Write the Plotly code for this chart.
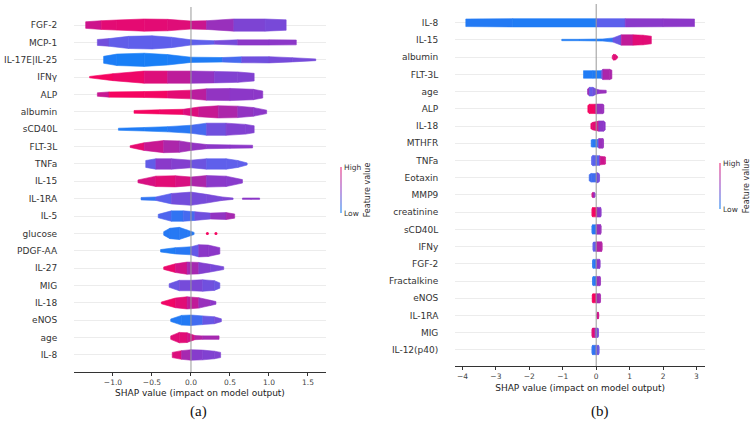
import plotly.graph_objects as go

# ---------------- Panel (a) data ----------------
A_features = ["FGF-2", "MCP-1", "IL-17E|IL-25", "IFNγ", "ALP", "albumin", "sCD40L", "FLT-3L",
              "TNFa", "IL-15", "IL-1RA", "IL-5", "glucose", "PDGF-AA", "IL-27", "MIG", "IL-18",
              "eNOS", "age", "IL-8"]
A_x = [
    [-1.35, -1.15, -0.95, -0.6, -0.3, 0, 0.2, 0.55, 0.95, 1.22],
    [-1.2, -1.05, -0.8, -0.5, -0.25, 0, 0.3, 0.6, 1.0, 1.35],
    [-1.12, -0.95, -0.6, -0.3, 0, 0.4, 0.65, 1.0, 1.3, 1.6],
    [-1.3, -1.0, -0.6, -0.3, 0, 0.3, 0.6, 0.81],
    [-1.2, -1.05, -0.6, -0.3, 0, 0.2, 0.5, 0.8, 0.92],
    [-0.73, -0.4, -0.1, 0.1, 0.35, 0.6, 0.8, 0.97],
    [-0.93, -0.6, -0.3, 0, 0.2, 0.45, 0.7, 0.81],
    [-0.78, -0.6, -0.35, -0.15, 0, 0.2, 0.5, 0.79],
    [-0.58, -0.45, -0.25, 0, 0.2, 0.45, 0.6, 0.72],
    [-0.68, -0.45, -0.2, 0, 0.2, 0.45, 0.66],
    [-0.64, -0.45, -0.25, 0, 0.2, 0.4, 0.54],
    [-0.42, -0.25, -0.1, 0.05, 0.25, 0.45, 0.56],
    [-0.35, -0.27, -0.15, -0.05, 0.04],
    [-0.39, -0.2, 0, 0.1, 0.22, 0.37],
    [-0.35, -0.2, -0.05, 0.1, 0.25, 0.42],
    [-0.28, -0.15, 0, 0.15, 0.3, 0.37],
    [-0.38, -0.2, -0.05, 0.1, 0.25, 0.32],
    [-0.26, -0.12, 0, 0.15, 0.3, 0.39],
    [-0.26, -0.15, -0.05, 0.05, 0.15, 0.36],
    [-0.24, -0.12, 0, 0.15, 0.3, 0.38],
]
A_hw = [
    [0.19, 0.25, 0.29, 0.35, 0.33, 0.23, 0.25, 0.35, 0.35, 0.3],
    [0.17, 0.22, 0.35, 0.38, 0.3, 0.15, 0.1, 0.15, 0.15, 0.14],
    [0.2, 0.33, 0.38, 0.3, 0.15, 0.13, 0.17, 0.18, 0.12, 0.05],
    [0.04, 0.2, 0.35, 0.35, 0.35, 0.33, 0.3, 0.22],
    [0.1, 0.15, 0.17, 0.2, 0.25, 0.33, 0.35, 0.3, 0.2],
    [0.08, 0.12, 0.15, 0.28, 0.35, 0.33, 0.25, 0.1],
    [0.06, 0.1, 0.15, 0.23, 0.35, 0.35, 0.28, 0.2],
    [0.05, 0.22, 0.35, 0.33, 0.22, 0.12, 0.1, 0.08],
    [0.2, 0.3, 0.3, 0.22, 0.3, 0.3, 0.2, 0.06],
    [0.08, 0.3, 0.32, 0.25, 0.33, 0.3, 0.1],
    [0.07, 0.1, 0.3, 0.38, 0.25, 0.1, 0.04],
    [0.1, 0.3, 0.3, 0.25, 0.17, 0.2, 0.12],
    [0.1, 0.3, 0.35, 0.2, 0.06],
    [0.07, 0.18, 0.23, 0.35, 0.33, 0.18],
    [0.07, 0.25, 0.35, 0.33, 0.22, 0.08],
    [0.1, 0.3, 0.3, 0.33, 0.28, 0.15],
    [0.05, 0.28, 0.35, 0.3, 0.15, 0.08],
    [0.07, 0.28, 0.3, 0.25, 0.2, 0.08],
    [0.1, 0.3, 0.28, 0.12, 0.1, 0.1],
    [0.15, 0.25, 0.3, 0.28, 0.22, 0.15],
]
A_c = [
    [0.65, 0.85, 0.87, 0.87, 0.85, 0.83, 0.65, 0.45, 0.42, 0.4],
    [0.45, 0.32, 0.3, 0.3, 0.3, 0.3, 0.3, 0.5, 0.5, 0.5],
    [0.1, 0.08, 0.08, 0.08, 0.1, 0.1, 0.35, 0.4, 0.4, 0.4],
    [0.95, 0.95, 0.88, 0.78, 0.6, 0.45, 0.45, 0.45],
    [0.5, 0.95, 0.95, 0.93, 0.8, 0.55, 0.5, 0.5, 0.5],
    [0.95, 0.95, 0.9, 0.75, 0.7, 0.55, 0.5, 0.5],
    [0.1, 0.1, 0.1, 0.15, 0.3, 0.45, 0.45, 0.45],
    [0.95, 0.8, 0.65, 0.6, 0.55, 0.5, 0.5, 0.5],
    [0.15, 0.48, 0.5, 0.42, 0.3, 0.3, 0.3, 0.3],
    [0.75, 0.85, 0.85, 0.75, 0.5, 0.48, 0.48],
    [0.1, 0.2, 0.38, 0.4, 0.4, 0.42, 0.45],
    [0.35, 0.15, 0.15, 0.3, 0.45, 0.6, 0.6],
    [0.12, 0.12, 0.12, 0.12, 0.12],
    [0.1, 0.1, 0.15, 0.5, 0.5, 0.5],
    [0.95, 0.85, 0.7, 0.5, 0.42, 0.4],
    [0.35, 0.35, 0.45, 0.4, 0.35, 0.35],
    [0.95, 0.9, 0.8, 0.6, 0.5, 0.5],
    [0.12, 0.1, 0.12, 0.3, 0.38, 0.4],
    [0.85, 0.85, 0.85, 0.7, 0.6, 0.6],
    [0.95, 0.7, 0.5, 0.45, 0.45, 0.45],
]
# detached piece of IL-1RA and the isolated glucose points
A_sep_feature = "IL-1RA"
A_sep_x = [0.66, 0.77, 0.88]
A_sep_hw = [0.04, 0.04, 0.04]
A_sep_c = [0.5, 0.5, 0.5]
A_dots_feature = "glucose"
A_dots_x = [0.21, 0.32]
A_dots_c = 0.95

# ---------------- Panel (b) data ----------------
B_features = ["IL-8", "IL-15", "albumin", "FLT-3L", "age", "ALP", "IL-18", "MTHFR", "TNFa",
              "Eotaxin", "MMP9", "creatinine", "sCD40L", "IFNy", "FGF-2", "Fractalkine",
              "eNOS", "IL-1RA", "MIG", "IL-12(p40)"]
B_x = [
    [-3.9, -2.5, 0, 0.87, 2.0, 2.94],
    [-1.03, -0.5, 0.2, 0.5, 0.75, 1.1, 1.4, 1.65],
    [0.48, 0.52, 0.58, 0.64],
    [-0.38, -0.1, 0.15, 0.2, 0.4, 0.47],
    [-0.26, -0.2, -0.1, 0.0, 0.1, 0.3],
    [-0.25, -0.2, -0.03, 0.02, 0.2, 0.23],
    [-0.16, -0.1, 0.05, 0.08, 0.22, 0.27],
    [-0.15, -0.1, 0.05, 0.08, 0.2, 0.22],
    [-0.14, -0.1, 0.1, 0.12, 0.25, 0.28],
    [-0.21, -0.15, 0.0, 0.02, 0.08, 0.1],
    [-0.13, -0.1, -0.06, -0.03],
    [-0.13, -0.11, 0.02, 0.04, 0.13, 0.15],
    [-0.13, -0.11, -0.01, 0.01, 0.13, 0.15],
    [-0.1, -0.08, -0.01, 0.01, 0.16, 0.18],
    [-0.11, -0.09, -0.01, 0.01, 0.1, 0.12],
    [-0.11, -0.09, 0.0, 0.02, 0.11, 0.13],
    [-0.12, -0.1, -0.01, 0.01, 0.11, 0.13],
    [0.02, 0.04, 0.06, 0.08],
    [-0.13, -0.11, -0.04, -0.02, 0.05, 0.07],
    [-0.13, -0.11, -0.02, 0.0, 0.07, 0.09],
]
B_hw = [
    [0.22, 0.24, 0.24, 0.24, 0.23, 0.22],
    [0.04, 0.04, 0.06, 0.12, 0.3, 0.3, 0.28, 0.22],
    [0.08, 0.17, 0.15, 0.05],
    [0.22, 0.22, 0.22, 0.3, 0.3, 0.25],
    [0.15, 0.25, 0.25, 0.15, 0.1, 0.08],
    [0.2, 0.27, 0.27, 0.28, 0.28, 0.2],
    [0.15, 0.22, 0.28, 0.3, 0.3, 0.22],
    [0.2, 0.22, 0.22, 0.28, 0.28, 0.2],
    [0.22, 0.3, 0.28, 0.25, 0.22, 0.2],
    [0.18, 0.25, 0.25, 0.3, 0.25, 0.15],
    [0.1, 0.15, 0.15, 0.1],
    [0.18, 0.27, 0.27, 0.28, 0.28, 0.18],
    [0.18, 0.27, 0.27, 0.28, 0.28, 0.18],
    [0.18, 0.27, 0.27, 0.28, 0.28, 0.18],
    [0.18, 0.26, 0.26, 0.27, 0.27, 0.18],
    [0.18, 0.26, 0.26, 0.27, 0.27, 0.18],
    [0.18, 0.26, 0.26, 0.27, 0.27, 0.18],
    [0.08, 0.2, 0.2, 0.08],
    [0.18, 0.27, 0.27, 0.27, 0.27, 0.18],
    [0.18, 0.27, 0.27, 0.27, 0.27, 0.18],
]
B_c = [
    [0.12, 0.1, 0.1, 0.48, 0.5, 0.5],
    [0.1, 0.1, 0.1, 0.15, 0.55, 0.85, 0.85, 0.85],
    [0.85, 0.85, 0.85, 0.85],
    [0.1, 0.1, 0.1, 0.62, 0.62, 0.62],
    [0.75, 0.35, 0.3, 0.45, 0.55, 0.55],
    [0.95, 0.95, 0.95, 0.55, 0.55, 0.55],
    [0.88, 0.88, 0.85, 0.5, 0.5, 0.5],
    [0.12, 0.12, 0.12, 0.55, 0.55, 0.55],
    [0.28, 0.28, 0.28, 0.75, 0.75, 0.75],
    [0.2, 0.2, 0.2, 0.4, 0.4, 0.4],
    [0.85, 0.8, 0.5, 0.5],
    [0.95, 0.95, 0.95, 0.5, 0.5, 0.5],
    [0.12, 0.12, 0.12, 0.55, 0.55, 0.55],
    [0.3, 0.3, 0.3, 0.65, 0.65, 0.65],
    [0.12, 0.12, 0.12, 0.5, 0.5, 0.5],
    [0.12, 0.12, 0.12, 0.55, 0.55, 0.55],
    [0.95, 0.95, 0.95, 0.6, 0.6, 0.6],
    [0.75, 0.75, 0.75, 0.75],
    [0.85, 0.85, 0.85, 0.4, 0.4, 0.4],
    [0.15, 0.15, 0.15, 0.35, 0.35, 0.35],
]

X_LABEL = "SHAP value (impact on model output)"
A_ticks = [-1.0, -0.5, 0.0, 0.5, 1.0, 1.5]
B_ticks = [-4, -3, -2, -1, 0, 1, 2, 3]

# ---------------- helpers ----------------
STOPS = [(0.0, (0, 138, 250)), (0.3, (95, 95, 235)), (0.5, (140, 55, 200)),
         (0.75, (205, 20, 140)), (1.0, (255, 0, 85))]


def shap_color(v):
    v = max(0.0, min(1.0, v))
    for (a, ca), (b, cb) in zip(STOPS[:-1], STOPS[1:]):
        if a <= v <= b:
            t = (v - a) / (b - a)
            c = [round(ca[i] + t * (cb[i] - ca[i])) for i in range(3)]
            return "rgb(%d,%d,%d)" % tuple(c)
    return "rgb(255,0,85)"


fig = go.Figure()


def add_violin(xs, hws, cs, yc, xa, ya):
    for k in range(len(xs) - 1):
        col = shap_color((cs[k] + cs[k + 1]) / 2)
        px = [xs[k], xs[k + 1], xs[k + 1], xs[k], xs[k]]
        py = [yc + hws[k], yc + hws[k + 1], yc - hws[k + 1], yc - hws[k], yc + hws[k]]
        fig.add_trace(go.Scatter(x=px, y=py, fill="toself", fillcolor=col, mode="lines",
                                 line=dict(color=col, width=0.6), xaxis=xa, yaxis=ya,
                                 hoverinfo="skip", showlegend=False))


nA = len(A_features)
for i, f in enumerate(A_features):
    add_violin(A_x[i], A_hw[i], A_c[i], nA - 1 - i, "x", "y")
ysep = nA - 1 - A_features.index(A_sep_feature)
add_violin(A_sep_x, A_sep_hw, A_sep_c, ysep, "x", "y")
ydot = nA - 1 - A_features.index(A_dots_feature)
fig.add_trace(go.Scatter(x=A_dots_x, y=[ydot] * len(A_dots_x), mode="markers",
                         marker=dict(color=shap_color(A_dots_c), size=3),
                         xaxis="x", yaxis="y", hoverinfo="skip", showlegend=False))

nB = len(B_features)
for i, f in enumerate(B_features):
    add_violin(B_x[i], B_hw[i], B_c[i], nB - 1 - i, "x2", "y2")

# colorbars (dummy traces off-range)
CB_SCALE = [[0, "#7fbcf8"], [0.5, "#c49ae0"], [1, "#f58ab5"]]
for xa, ya, cbx, cby in [("x", "y", 340 / 751, 1 - 190 / 422), ("x2", "y2", 719 / 751, 1 - 186 / 422)]:
    fig.add_trace(go.Scatter(
        x=[0, 0], y=[-50, -50], mode="markers", xaxis=xa, yaxis=ya, hoverinfo="skip",
        showlegend=False,
        marker=dict(color=[0, 1], cmin=0, cmax=1, colorscale=CB_SCALE, size=1,
                    showscale=True,
                    colorbar=dict(x=cbx, y=cby, xanchor="left", yanchor="middle",
                                  xpad=0, ypad=0,
                                  thickness=2, len=46, lenmode="pixels", outlinewidth=0,
                                  tickvals=[0, 1], ticktext=["Low", "High"], ticks="",
                                  tickfont=dict(size=7.5, color="#333"),
                                  title=dict(text="Feature value", side="right",
                                             font=dict(size=8, color="#333"))))))

axis_common = dict(showline=True, linecolor="#333", linewidth=1, ticks="outside",
                   ticklen=3, tickcolor="#333", tickfont=dict(size=7.5, color="#444"),
                   showgrid=False, zeroline=False, automargin=False)
yaxis_common = dict(showgrid=True, gridcolor="#ececec", gridwidth=1, zeroline=False,
                    showline=False, ticks="outside", ticklen=14, automargin=False,
                    tickcolor="rgba(0,0,0,0)", tickfont=dict(size=9, color="#333"))

fig.update_layout(
    width=751, height=422, margin=dict(l=0, r=0, t=0, b=0, autoexpand=False),
    plot_bgcolor="white", paper_bgcolor="white", showlegend=False,
    font=dict(family="DejaVu Sans", color="#333"),
    xaxis=dict(domain=[0.0985, 0.434], range=[-1.5, 1.73], tickvals=A_ticks,
               tickformat=".1f", anchor="y",
               title=dict(text=X_LABEL, font=dict(size=9, color="#222"), standoff=3),
               **axis_common),
    yaxis=dict(domain=[0.1185, 0.9834], range=[-0.98, 20.04], anchor="x",
               tickvals=list(range(nA)), ticktext=A_features[::-1], **yaxis_common),
    xaxis2=dict(domain=[0.606, 0.939], range=[-4.22, 3.26], tickvals=B_ticks, anchor="y2",
                title=dict(text=X_LABEL, font=dict(size=9, color="#222"), standoff=4),
                **axis_common),
    yaxis2=dict(domain=[0.1327, 0.9905], range=[-0.93, 20.09], anchor="x2",
                tickvals=list(range(nB)), ticktext=B_features[::-1], **yaxis_common),
)

# zero lines
fig.add_shape(type="line", xref="x", yref="y domain", x0=0, x1=0, y0=0, y1=1,
              line=dict(color="#999", width=1), layer="above")
fig.add_shape(type="line", xref="x2", yref="y2 domain", x0=0, x1=0, y0=0, y1=1,
              line=dict(color="#999", width=1), layer="above")

fig.add_annotation(text="(a)", x=198 / 751, y=1 - 411 / 422, xref="paper", yref="paper",
                   xanchor="center", yanchor="middle", showarrow=False,
                   font=dict(family="Liberation Serif", size=15, color="#111"))
fig.add_annotation(text="(b)", x=600 / 751, y=1 - 411 / 422, xref="paper", yref="paper",
                   xanchor="center", yanchor="middle", showarrow=False,
                   font=dict(family="Liberation Serif", size=15, color="#111"))

fig.write_html("out.html")
